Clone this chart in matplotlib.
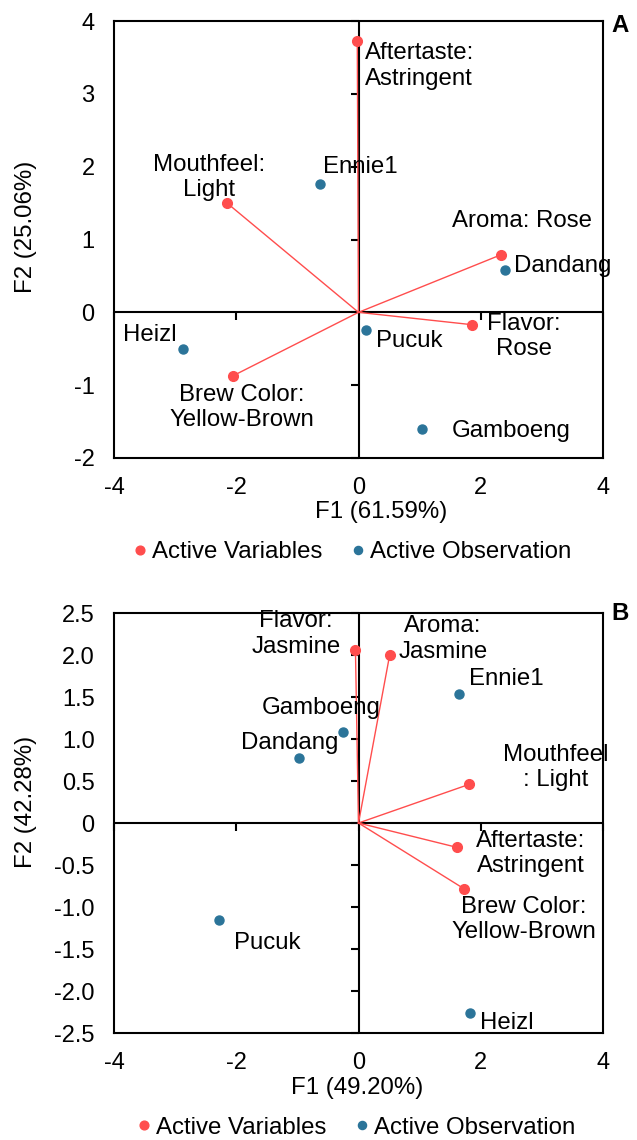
import matplotlib
matplotlib.use("Agg")
import matplotlib.pyplot as plt

plt.rcParams['font.family'] = ['Liberation Sans', 'DejaVu Sans']
plt.rcParams['axes.unicode_minus'] = False

RED = '#ff4d4d'
BLUE = '#2b7499'
FS = 17.3

# ---- panel A data ----
varsA_names = ['Aftertaste:\nAstringent', 'Mouthfeel:\nLight', 'Aroma: Rose',
               'Flavor:\nRose', 'Brew Color:\nYellow-Brown']
varsA_x = [-0.02, -2.15, 2.33, 1.86, -2.05]
varsA_y = [3.73, 1.50, 0.79, -0.17, -0.87]
obsA_names = ['Ennie1', 'Dandang', 'Pucuk', 'Heizl', 'Gamboeng']
obsA_x = [-0.63, 2.40, 0.13, -2.87, 1.04]
obsA_y = [1.76, 0.58, -0.24, -0.50, -1.60]
xticksA = [-4, -2, 0, 2, 4]
yticksA = [-2, -1, 0, 1, 2, 3, 4]

# ---- panel B data ----
varsB_names = ['Flavor:\nJasmine', 'Aroma:\nJasmine', 'Mouthfeel\n: Light',
               'Aftertaste:\nAstringent', 'Brew Color:\nYellow-Brown']
varsB_x = [-0.05, 0.51, 1.81, 1.61, 1.72]
varsB_y = [2.06, 2.00, 0.46, -0.29, -0.78]
obsB_names = ['Ennie1', 'Gamboeng', 'Dandang', 'Pucuk', 'Heizl']
obsB_x = [1.65, -0.25, -0.98, -2.28, 1.83]
obsB_y = [1.54, 1.08, 0.77, -1.15, -2.26]
xticksB = [-4, -2, 0, 2, 4]
yticksB = [-2.5, -2.0, -1.5, -1.0, -0.5, 0, 0.5, 1.0, 1.5, 2.0, 2.5]
yticklabB = ['-2.5', '-2.0', '-1.5', '-1.0', '-0.5', '0', '0.5', '1.0', '1.5', '2.0', '2.5']

# label placement (offset from point, alignment)
labA_vars = [(0.12, -0.35, 'left'), (-0.30, 0.35, 'center'), (0.34, 0.47, 'center'),
             (0.85, -0.16, 'center'), (0.14, -0.44, 'center')]
labA_obs = [(0.05, 0.24, 'left'), (0.15, 0.06, 'left'), (0.16, -0.15, 'left'),
            (-0.99, 0.19, 'left'), (0.48, -0.03, 'left')]
labB_vars = [(-0.97, 0.19, 'center'), (0.87, 0.19, 'center'), (1.41, 0.20, 'center'),
             (1.21, -0.07, 'center'), (0.99, -0.37, 'center')]
labB_obs = [(0.16, 0.18, 'left'), (-1.33, 0.29, 'left'), (-0.95, 0.18, 'left'),
            (0.25, -0.28, 'left'), (0.16, -0.12, 'left')]


def biplot(ax, vn, vx, vy, on, ox, oy, xt, yt, ytl, ylim, xlab, ylab,
           lv, lo, xl_pos, yl_pos, leg_pos):
    ax.set_xlim(-4, 4)
    ax.set_ylim(*ylim)
    ax.axhline(0, color='black', lw=1.5, zorder=1)
    ax.axvline(0, color='black', lw=1.5, zorder=1)
    # tick marks on the zero axes
    ax.plot(xt, [0] * len(xt), ls='none', marker=3, ms=6, mew=1.5, color='black', clip_on=False)
    ax.plot([0] * len(yt), yt, ls='none', marker=0, ms=6, mew=1.5, color='black', clip_on=False)
    for x, y in zip(vx, vy):
        ax.plot([0, x], [0, y], color=RED, lw=1, zorder=2)
    ax.plot(vx, vy, 'o', color=RED, ms=7, label='Active Variables', zorder=3)
    ax.plot(ox, oy, 'o', color=BLUE, ms=6.5, label='Active Observation', zorder=3)
    for n, x, y, (dx, dy, ha) in zip(vn, vx, vy, lv):
        ax.text(x + dx, y + dy, n, ha=ha, va='center', fontsize=FS, linespacing=1.2,
                multialignment='center')
    for n, x, y, (dx, dy, ha) in zip(on, ox, oy, lo):
        ax.text(x + dx, y + dy, n, ha=ha, va='center', fontsize=FS)
    ax.set_xticks(xt)
    ax.set_yticks(yt)
    ax.set_yticklabels(ytl)
    ax.tick_params(length=0, labelsize=17, pad=14)
    for s in ax.spines.values():
        s.set_linewidth(1.5)
    ax.set_xlabel(xlab, fontsize=FS)
    ax.set_ylabel(ylab, fontsize=FS)
    ax.xaxis.set_label_coords(*xl_pos)
    ax.yaxis.set_label_coords(*yl_pos)
    ax.legend(loc='center', bbox_to_anchor=leg_pos, ncol=2, frameon=False, fontsize=FS,
              handletextpad=0.0, columnspacing=1.0, handlelength=1.0, markerscale=0.9)


fig = plt.figure(figsize=(6.37, 11.4), dpi=100)
axA = fig.add_axes([114 / 637, 1 - 458 / 1140, 489 / 637, 437 / 1140])
axB = fig.add_axes([114 / 637, 1 - 1033 / 1140, 489 / 637, 420 / 1140])

biplot(axA, varsA_names, varsA_x, varsA_y, obsA_names, obsA_x, obsA_y,
       xticksA, yticksA, [str(v) for v in yticksA], (-2, 4),
       'F1 (61.59%)', 'F2 (25.06%)', labA_vars, labA_obs,
       (0.547, -0.098), (-0.157, 0.53), (0.482, -0.215))
biplot(axB, varsB_names, varsB_x, varsB_y, obsB_names, obsB_x, obsB_y,
       xticksB, yticksB, yticklabB, (-2.5, 2.5),
       'F1 (49.20%)', 'F2 (42.28%)', labB_vars, labB_obs,
       (0.497, -0.104), (-0.157, 0.55), (0.49, -0.225))

fig.text(620 / 637, 1 - 25 / 1140, 'A', fontsize=FS, fontweight='bold', ha='center', va='center')
fig.text(620 / 637, 1 - 613 / 1140, 'B', fontsize=FS, fontweight='bold', ha='center', va='center')

fig.savefig('out.png', dpi=100)
